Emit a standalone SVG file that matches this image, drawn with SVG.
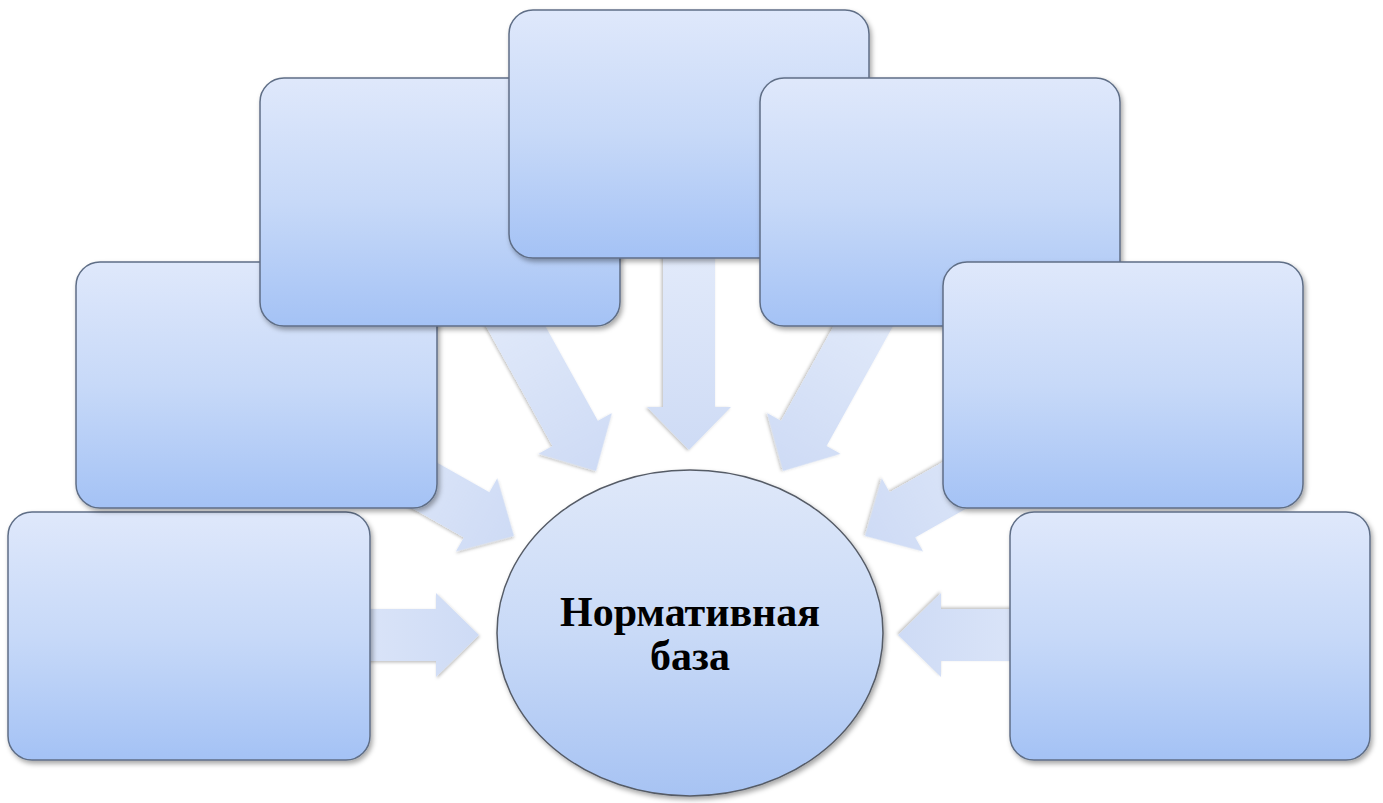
<svg xmlns="http://www.w3.org/2000/svg" xmlns:xlink="http://www.w3.org/1999/xlink" width="1383" height="803" viewBox="0 0 1383 803">
<style>
.box{fill:url(#boxGrad);stroke:#5f6e86;stroke-width:1.5;filter:url(#shadow)}
.arrow{fill:url(#arrowGrad);filter:url(#arrowShadow)}
.hub{fill:url(#hubGrad);stroke:#555b66;stroke-width:1.5;filter:url(#shadow)}
.label{font-family:"Liberation Serif","Times New Roman",serif;font-weight:bold;font-size:42px;fill:#000;text-anchor:middle}
</style>
<defs>
<linearGradient id="boxGrad" x1="0" y1="0" x2="0" y2="1">
<stop offset="0" stop-color="#dfe8fb"/>
<stop offset="0.5" stop-color="#c7d9f8"/>
<stop offset="1" stop-color="#a4c2f5"/>
</linearGradient>
<linearGradient id="hubGrad" x1="0" y1="0" x2="0" y2="1">
<stop offset="0" stop-color="#dfe8f9"/>
<stop offset="0.5" stop-color="#c9daf7"/>
<stop offset="1" stop-color="#a7c3f3"/>
</linearGradient>
<linearGradient id="arrowGrad" x1="0" y1="0" x2="1" y2="0">
<stop offset="0" stop-color="#e2eafa"/>
<stop offset="1" stop-color="#cedbf5"/>
</linearGradient>
<filter id="shadow" x="-10%" y="-10%" width="125%" height="125%">
<feDropShadow dx="2" dy="3" stdDeviation="2.5" flood-color="#000" flood-opacity="0.35"/>
</filter>
<filter id="arrowShadow" x="-10%" y="-10%" width="125%" height="125%">
<feDropShadow dx="1" dy="1.5" stdDeviation="1.5" flood-color="#000" flood-opacity="0.25"/>
</filter>
<path id="arr" d="M0,0 L-43,-42 L-43,-26 L-200,-26 L-200,26 L-43,26 L-43,42 Z"/>
</defs>
<rect width="1383" height="803" fill="#ffffff"/>
<g id="connectors">
<use xlink:href="#arr" class="arrow" transform="translate(479,635)"/>
<use xlink:href="#arr" class="arrow" transform="translate(514,536) rotate(29.5)"/>
<use xlink:href="#arr" class="arrow" transform="translate(596,471) rotate(61)"/>
<use xlink:href="#arr" class="arrow" transform="translate(689,450) rotate(90)"/>
<use xlink:href="#arr" class="arrow" transform="translate(783,471) rotate(119)"/>
<use xlink:href="#arr" class="arrow" transform="translate(865,536) rotate(150.5)"/>
<use xlink:href="#arr" class="arrow" transform="translate(898,635) rotate(180)"/>
</g>
<g id="node-bl"><rect class="box" x="8" y="512" width="362" height="248" rx="24"/></g>
<g id="node-ml"><rect class="box" x="76" y="262" width="361" height="246" rx="24"/></g>
<g id="node-tl"><rect class="box" x="260" y="78" width="360" height="248" rx="24"/></g>
<g id="node-tc"><rect class="box" x="509" y="10" width="360" height="248" rx="24"/></g>
<g id="node-tr"><rect class="box" x="760" y="78" width="360" height="248" rx="24"/></g>
<g id="node-mr"><rect class="box" x="943" y="262" width="360" height="246" rx="24"/></g>
<g id="node-br"><rect class="box" x="1010" y="512" width="360" height="248" rx="24"/></g>
<g id="node-hub">
<ellipse class="hub" cx="690" cy="633" rx="193" ry="163"/>
<text class="label" x="690" y="626">Нормативная</text>
<text class="label" x="690" y="670">база</text>
</g>
</svg>
